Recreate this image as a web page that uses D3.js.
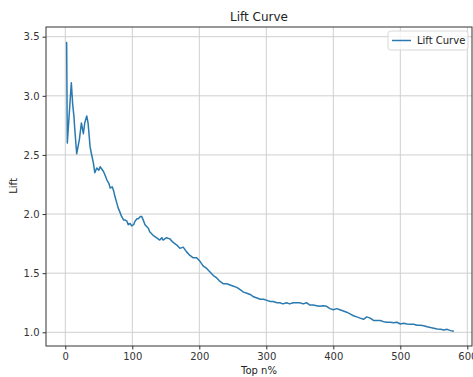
<!DOCTYPE html>
<html lang="en">
<head>
<meta charset="utf-8">
<title>Lift Curve</title>
<script src="https://cdn.jsdelivr.net/npm/d3@7"></script>
<style>
  body { margin: 0; background: #fff; }
  text { font-family: "DejaVu Sans", sans-serif; fill: #222; }
</style>
</head>
<body>
<script>
// values
var topN = [1, 2, 3, 9, 11, 13, 14, 17, 21, 24, 27, 29, 32, 34, 37, 39, 42, 44, 47, 50,
  52, 57, 60, 62, 65, 67, 70, 72, 74, 77, 79, 82, 84, 87, 89, 92, 94, 97, 99, 102,
  104, 107, 109, 112, 114, 117, 119, 122, 124, 126, 131, 136, 141, 144, 146, 151, 156, 161, 166, 171,
  176, 181, 186, 191, 196, 201, 206, 211, 216, 221, 226, 231, 236, 241, 246, 251, 256, 261, 266, 271,
  276, 281, 286, 291, 296, 301, 306, 310, 316, 320, 325, 330, 335, 340, 345, 350, 355, 360, 365, 370,
  375, 380, 385, 390, 395, 400, 405, 410, 415, 420, 425, 430, 435, 440, 445, 450, 455, 460, 465, 470,
  475, 480, 485, 490, 495, 500, 505, 510, 515, 520, 525, 530, 535, 540, 545, 550, 555, 560, 565, 570,
  575, 580];
var lift = [3.45, 3.45, 2.60, 3.11, 2.93, 2.82, 2.73, 2.51, 2.63, 2.77, 2.68, 2.77, 2.83, 2.77, 2.57, 2.51, 2.43, 2.35, 2.39, 2.37,
  2.40, 2.36, 2.32, 2.29, 2.26, 2.22, 2.23, 2.20, 2.15, 2.09, 2.05, 2.01, 1.98, 1.95, 1.95, 1.94, 1.91, 1.92, 1.90, 1.91,
  1.94, 1.96, 1.96, 1.98, 1.98, 1.94, 1.91, 1.89, 1.88, 1.85, 1.82, 1.80, 1.78, 1.80, 1.78, 1.80, 1.79, 1.76, 1.74, 1.71,
  1.72, 1.68, 1.65, 1.63, 1.63, 1.60, 1.56, 1.54, 1.51, 1.48, 1.46, 1.43, 1.41, 1.41, 1.40, 1.39, 1.38, 1.36, 1.34, 1.33,
  1.32, 1.30, 1.29, 1.28, 1.28, 1.27, 1.26, 1.26, 1.25, 1.25, 1.24, 1.25, 1.24, 1.25, 1.25, 1.25, 1.24, 1.25, 1.23, 1.23,
  1.225, 1.22, 1.225, 1.22, 1.20, 1.19, 1.20, 1.19, 1.18, 1.17, 1.155, 1.14, 1.13, 1.12, 1.11, 1.13, 1.12, 1.10, 1.10, 1.10,
  1.09, 1.085, 1.085, 1.08, 1.085, 1.07, 1.076, 1.07, 1.068, 1.068, 1.06, 1.06, 1.056, 1.047, 1.04, 1.034, 1.028, 1.025, 1.02, 1.025,
  1.014, 1.008];
var xTicks = [0, 100, 200, 300, 400, 500, 600];
var yTicks = [1.0, 1.5, 2.0, 2.5, 3.0, 3.5];

var w = 473, h = 377;
var box = { left: 46, right: 472, top: 27, bottom: 346 };

var svg = d3.select("body").append("svg")
    .attr("width", w)
    .attr("height", h);

var x = d3.scaleLinear().domain([-28.8, 607]).range([box.left, box.right]);
var y = d3.scaleLinear().domain([0.884, 3.582]).range([box.bottom, box.top]);

// grid
svg.append("g").selectAll("line.gx")
    .data(xTicks).enter().append("line")
    .attr("x1", function(d) { return x(d); })
    .attr("x2", function(d) { return x(d); })
    .attr("y1", box.top).attr("y2", box.bottom)
    .attr("stroke", "#cfcfcf").attr("stroke-width", 1);
svg.append("g").selectAll("line.gy")
    .data(yTicks).enter().append("line")
    .attr("y1", function(d) { return y(d); })
    .attr("y2", function(d) { return y(d); })
    .attr("x1", box.left).attr("x2", box.right)
    .attr("stroke", "#cfcfcf").attr("stroke-width", 1);

// curve
var pts = topN.map(function(n, i) { return [n, lift[i]]; });
var line = d3.line()
    .x(function(d) { return x(d[0]); })
    .y(function(d) { return y(d[1]); });
svg.append("path")
    .datum(pts)
    .attr("d", line)
    .attr("fill", "none")
    .attr("stroke", "#2a7ab0")
    .attr("stroke-width", 1.5)
    .attr("stroke-linejoin", "round");

// frame
svg.append("rect")
    .attr("x", box.left).attr("y", box.top)
    .attr("width", box.right - box.left)
    .attr("height", box.bottom - box.top)
    .attr("fill", "none")
    .attr("stroke", "#333")
    .attr("stroke-width", 1);

// axes
var xaxis = d3.axisBottom(x).tickValues(xTicks).tickSize(3.5).tickPadding(3)
    .tickFormat(d3.format("d"));
var yaxis = d3.axisLeft(y).tickValues(yTicks).tickSize(3.5).tickPadding(3)
    .tickFormat(d3.format(".1f"));

var gx = svg.append("g")
    .attr("transform", "translate(0," + box.bottom + ")")
    .call(xaxis);
var gy = svg.append("g")
    .attr("transform", "translate(" + box.left + ",0)")
    .call(yaxis);
[gx, gy].forEach(function(g) {
  g.select(".domain").remove();
  g.selectAll(".tick line").attr("stroke", "#333");
  g.selectAll(".tick text").style("font-size", "10px").style("fill", "#333");
});

// labels
svg.append("text")
    .attr("x", (box.left + box.right) / 2)
    .attr("y", 21)
    .attr("text-anchor", "middle")
    .style("font-size", "12px")
    .text("Lift Curve");
svg.append("text")
    .attr("x", (box.left + box.right) / 2)
    .attr("y", 374)
    .attr("text-anchor", "middle")
    .style("font-size", "10px")
    .text("Top n%");
svg.append("text")
    .attr("transform", "translate(17,186) rotate(-90)")
    .attr("text-anchor", "middle")
    .style("font-size", "10px")
    .text("Lift");

// legend
var lg = svg.append("g").attr("transform", "translate(388,31)");
lg.append("rect")
    .attr("width", 80).attr("height", 19)
    .attr("rx", 2.5)
    .attr("fill", "#fff").attr("fill-opacity", 0.8)
    .attr("stroke", "#d8d8d8");
lg.append("line")
    .attr("x1", 4).attr("x2", 23)
    .attr("y1", 9.5).attr("y2", 9.5)
    .attr("stroke", "#2a7ab0").attr("stroke-width", 1.5);
lg.append("text")
    .attr("x", 29).attr("y", 13)
    .style("font-size", "10px")
    .text("Lift Curve");
</script>
</body>
</html>
